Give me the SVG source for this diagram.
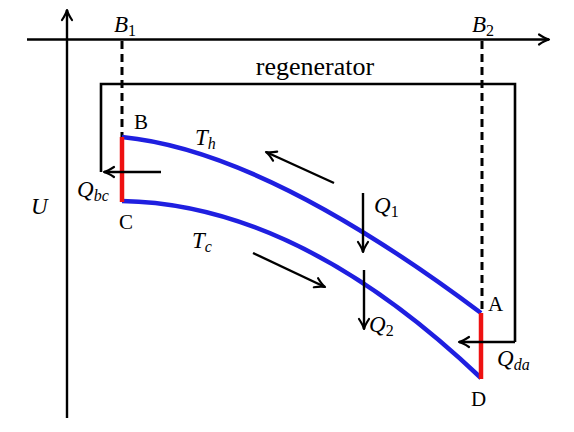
<svg xmlns="http://www.w3.org/2000/svg" width="574" height="432" viewBox="0 0 574 432">
<style>
.ln{stroke:#000;stroke-width:2.6;fill:none}
.ds{stroke:#000;stroke-width:3;fill:none;stroke-dasharray:8 5}
.bl{stroke:#1f1fe0;stroke-width:4.5;fill:none}
.rd{stroke:#ee1111;stroke-width:4.5;fill:none}
.ar{stroke:#000;stroke-width:2.4;fill:none;marker-end:url(#ah)}
.t{font-family:"Liberation Serif",serif;font-size:21px;fill:#000}
.m{font-family:"Liberation Serif",serif;font-style:italic;font-size:23px;fill:#000}
.s{font-family:"Liberation Serif",serif;font-style:normal;font-size:16px;fill:#000}
.si{font-family:"Liberation Serif",serif;font-style:italic;font-size:16px;fill:#000}
</style>
<defs>
<marker id="ah" markerUnits="userSpaceOnUse" markerWidth="14" markerHeight="14" viewBox="-11 -7 14 14" refX="0" refY="0" orient="auto" overflow="visible">
<path d="M-10,-5 Q-4,-1 0,0 Q-4,1 -10,5" stroke="#000" stroke-width="2.2" fill="none" stroke-linecap="round" stroke-linejoin="round"/>
</marker>
</defs>
<rect width="574" height="432" fill="#fff"/>
<g id="axes">
<line class="ar" x1="27" y1="39.5" x2="549" y2="39.5"/>
<line class="ar" x1="67" y1="418" x2="67" y2="10"/>
<text class="m" x="31" y="214">U</text>
</g>
<g id="B1">
<line class="ds" x1="122" y1="41" x2="122" y2="137"/>
<text class="m" x="114" y="32">B<tspan class="s" dy="4">1</tspan></text>
</g>
<g id="B2">
<line class="ds" x1="482" y1="41" x2="482" y2="312"/>
<text class="m" x="472" y="32">B<tspan class="s" dy="4">2</tspan></text>
</g>
<g id="regenerator">
<path class="ln" d="M101,172 V84 H515 V342"/>
<text class="t" x="315" y="75" text-anchor="middle" style="font-size:26px">regenerator</text>
</g>
<g id="Th">
<path class="bl" d="M122,137 Q265,151 481,313"/>
<text class="m" x="195" y="145">T<tspan class="si" dy="4">h</tspan></text>
</g>
<g id="Tc">
<path class="bl" d="M122,201 Q298,204 481,378"/>
<text class="m" x="192" y="248">T<tspan class="si" dy="4">c</tspan></text>
</g>
<g id="BC">
<line class="rd" x1="122" y1="137" x2="122" y2="202"/>
<text class="t" x="134" y="129">B</text>
<text class="t" x="119" y="229">C</text>
</g>
<g id="AD">
<line class="rd" x1="481" y1="313" x2="481" y2="379"/>
<text class="t" x="488" y="311">A</text>
<text class="t" x="471" y="406">D</text>
</g>
<g id="connectors">
<line class="ar" x1="161" y1="172" x2="104" y2="172"/>
<line class="ar" x1="515" y1="342" x2="459" y2="342"/>
<line class="ar" x1="334" y1="183" x2="266" y2="152"/>
<line class="ar" x1="253" y1="253" x2="325" y2="287"/>
<line class="ar" x1="363" y1="193" x2="363" y2="252"/>
<line class="ar" x1="364" y1="270" x2="364" y2="329"/>
</g>
<g id="labels">
<text class="m" x="77" y="197">Q<tspan class="si" dy="4">bc</tspan></text>
<text class="m" x="374" y="213">Q<tspan class="s" dy="4">1</tspan></text>
<text class="m" x="369" y="332">Q<tspan class="s" dy="4">2</tspan></text>
<text class="m" x="497" y="366">Q<tspan class="si" dy="4">da</tspan></text>
</g>
</svg>
